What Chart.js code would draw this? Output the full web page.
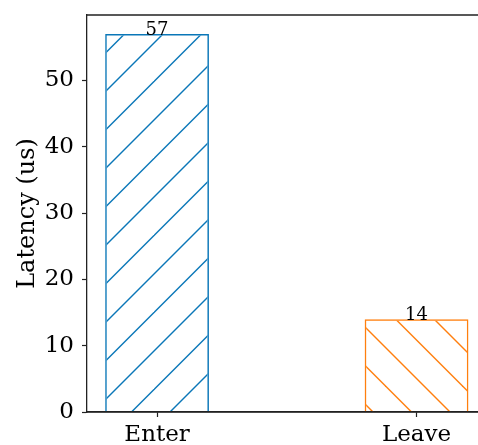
<!DOCTYPE html>
<html>
<head>
<meta charset="utf-8">
<script src="https://cdn.jsdelivr.net/npm/chart.js@4/dist/chart.umd.min.js"></script>
<style>
  html, body { margin: 0; padding: 0; background: #fff; overflow: hidden; }
  #wrap { width: 478px; height: 445px; }
</style>
</head>
<body>
<div id="wrap"><canvas id="c" width="478" height="445"></canvas></div>
<script>
// Latency per operation
const categories = ['Enter', 'Leave'];
const latency = [57, 14];
const yTicks = [0, 10, 20, 30, 40, 50];
const colors = ['#0a77b8', '#ff7f0e'];

const FONT = "'DejaVu Serif', 'Liberation Serif', serif";

// Diagonal hatch fill; dir = 1 for '/', -1 for '\'
function hatch(color, dir, phase) {
  const step = 38.5, size = 77;
  const t = document.createElement('canvas');
  t.width = size; t.height = size;
  const g = t.getContext('2d');
  g.strokeStyle = color;
  g.lineWidth = 1.4;
  for (let k = -4; k <= 8; k++) {
    const c = phase + k * step;
    g.beginPath();
    if (dir > 0) { g.moveTo(c + 20, -20); g.lineTo(c - 120, 120); }
    else { g.moveTo(c - 20, -20); g.lineTo(c + 120, 120); }
    g.stroke();
  }
  return g.createPattern(t, 'repeat');
}

const fills = [hatch(colors[0], 1, 4.5), hatch(colors[1], -1, -0.5)];

const valueLabels = {
  id: 'valueLabels',
  afterDatasetsDraw(chart) {
    const ctx = chart.ctx;
    const meta = chart.getDatasetMeta(0);
    ctx.save();
    ctx.font = '18px ' + FONT;
    ctx.fillStyle = '#000';
    ctx.textAlign = 'center';
    ctx.textBaseline = 'alphabetic';
    meta.data.forEach((el, i) => {
      ctx.fillText(String(latency[i]), el.x, el.y + 1);
    });
    ctx.restore();
  }
};

// Top spine plus bottom spine redrawn above the bars
const frame = {
  id: 'frame',
  afterDraw(chart) {
    const { ctx, chartArea } = chart;
    ctx.save();
    ctx.strokeStyle = '#222';
    ctx.lineWidth = 1.3;
    ctx.beginPath();
    ctx.moveTo(chartArea.left - 0.6, chartArea.top);
    ctx.lineTo(chartArea.right, chartArea.top);
    ctx.moveTo(chartArea.left - 0.6, chartArea.bottom);
    ctx.lineTo(chartArea.right, chartArea.bottom);
    ctx.stroke();
    ctx.restore();
  }
};

new Chart(document.getElementById('c'), {
  type: 'bar',
  data: {
    datasets: [{
      data: categories.map((_, i) => ({ x: i, y: latency[i] })),
      backgroundColor: fills,
      borderColor: colors,
      borderWidth: 1.5,
      borderSkipped: 'start',
      barPercentage: 0.4,
      categoryPercentage: 1
    }]
  },
  options: {
    responsive: false,
    animation: false,
    events: [],
    layout: { padding: { top: 15, right: 0, left: 0, bottom: 0 } },
    plugins: { legend: { display: false }, tooltip: { enabled: false } },
    scales: {
      x: {
        type: 'linear',
        offset: false,
        min: -0.27,
        max: 1.2368,
        afterFit: s => { s.height = 33; s.paddingLeft = 0; s.paddingRight = 0; },
        afterBuildTicks: s => { s.ticks = categories.map((_, i) => ({ value: i })); },
        ticks: {
          callback: (v, i) => categories[i],
          font: { size: 23, family: FONT },
          color: '#000',
          padding: 4,
          maxRotation: 0,
          autoSkip: false
        },
        grid: { offset: false, drawOnChartArea: false, drawTicks: true, tickLength: 5, tickColor: '#222', tickWidth: 1.2 },
        border: { display: true, color: '#222', width: 1.3 }
      },
      y: {
        min: 0,
        max: 59.85,
        afterFit: s => { s.width = 87; s.paddingTop = 0; s.paddingBottom = 0; },
        afterBuildTicks: s => { s.ticks = yTicks.map(v => ({ value: v })); },
        ticks: {
          font: { size: 23, family: FONT },
          color: '#000',
          padding: 8
        },
        grid: { drawOnChartArea: false, drawTicks: true, tickLength: 5, tickColor: '#222', tickWidth: 1.2 },
        border: { display: true, color: '#222', width: 1.3 },
        title: {
          display: true,
          text: 'Latency (us)',
          font: { size: 24, family: FONT },
          color: '#000',
          padding: { top: 13, bottom: 4 }
        }
      }
    }
  },
  plugins: [valueLabels, frame]
});
</script>
</body>
</html>
